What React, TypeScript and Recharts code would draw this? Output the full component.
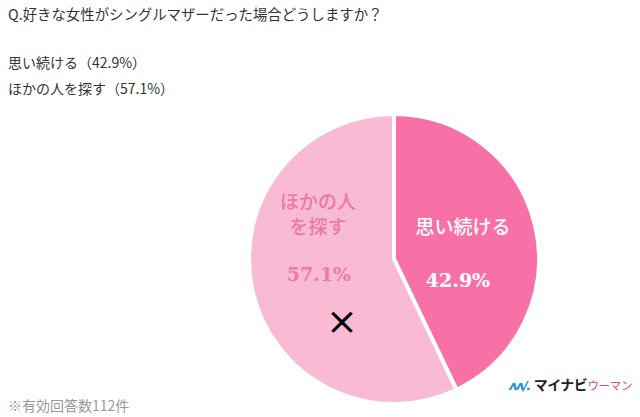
import React from 'react';
import { PieChart, Pie, Cell } from 'recharts';

const title = 'Q.好きな女性がシングルマザーだった場合どうしますか？';
const answers = ['思い続ける', 'ほかの人を探す'];
const shortLabels = [['思い続ける'], ['ほかの人', 'を探す']];
const percents = [42.9, 57.1];
const sliceColors = ['#F771A7', '#F8BBD3'];
const labelColors = ['#FFFFFF', '#EE78AA'];
const note = '※有効回答数112件';

const data = answers.map((name, i) => ({ name, value: percents[i] }));

const FONT = '"Noto Sans CJK JP", "Noto Sans", sans-serif';

// label offsets from the pie centre, per slice
const labelOffsets = [
  { x: 69, y: -34 },
  { x: -76, y: -59 },
];

function renderLabel(props: any) {
  const { cx, cy, index } = props;
  const off = labelOffsets[index];
  const x = cx + off.x;
  const y = cy + off.y;
  const lines = shortLabels[index];
  const color = labelColors[index];
  return (
    <g key={`lbl-${index}`}>
      {lines.map((t, i) => (
        <text
          key={i}
          x={x}
          y={y + i * 25}
          textAnchor="middle"
          dominantBaseline="central"
          fill={color}
          fontSize={19}
          fontWeight={500}
          fontFamily={FONT}
        >
          {t}
        </text>
      ))}
      <text
        x={x - (index === 0 ? 5 : -1)}
        y={cy + (index === 0 ? 21 : 15)}
        textAnchor="middle"
        dominantBaseline="central"
        fill={color}
        fontSize={19}
        fontWeight={700}
        fontFamily='"DejaVu Serif", serif'
      >
        {percents[index].toFixed(1)}%
      </text>
    </g>
  );
}

export default function App() {
  return (
    <div
      style={{
        position: 'fixed',
        left: 0,
        top: 0,
        width: 640,
        height: 417,
        background: '#fff',
        fontFamily: FONT,
        color: '#333',
      }}
    >
      <div style={{ position: 'absolute', left: 8, top: 3, fontSize: 14.4, whiteSpace: 'nowrap' }}>{title}</div>
      {answers.map((a, i) => (
        <div
          key={a}
          style={{ position: 'absolute', left: 8, top: 52 + i * 26, fontSize: 14, whiteSpace: 'nowrap' }}
        >
          {a}（{percents[i].toFixed(1)}%）
        </div>
      ))}
      <div style={{ position: 'absolute', left: 8, top: 395, fontSize: 14, color: '#999', whiteSpace: 'nowrap' }}>
        {note}
      </div>

      <div style={{ position: 'absolute', left: 0, top: 0 }}>
        <PieChart width={640} height={417} margin={{ top: 0, right: 0, bottom: 0, left: 0 }}>
          <Pie
            data={data}
            dataKey="value"
            nameKey="name"
            cx={394}
            cy={259}
            outerRadius={145}
            startAngle={90}
            endAngle={-270}
            stroke="#fff"
            strokeWidth={4}
            label={renderLabel}
            labelLine={false}
            isAnimationActive={false}
          >
            {data.map((d, i) => (
              <Cell key={d.name} fill={sliceColors[i]} />
            ))}
          </Pie>
        </PieChart>
      </div>

      <div
        style={{
          position: 'absolute',
          left: 326,
          top: 302,
          fontSize: 38,
          lineHeight: '38px',
          color: '#000',
          fontFamily: '"DejaVu Sans", sans-serif',
        }}
      >
        ×
      </div>

      <div style={{ position: 'absolute', left: 509, top: 374, display: 'flex', alignItems: 'baseline', whiteSpace: 'nowrap' }}>
        <span style={{ color: '#1E8FD8', fontSize: 13, fontWeight: 900, fontStyle: 'italic', letterSpacing: -1.5, marginRight: 4, fontFamily: '"DejaVu Sans", sans-serif' }}>
          ʌʌ/.
        </span>
        <span style={{ color: '#222', fontSize: 14, fontWeight: 700, letterSpacing: -0.5 }}>マイナビ</span>
        <span style={{ color: '#E0458C', fontSize: 11.5, letterSpacing: -0.3 }}>ウーマン</span>
      </div>
    </div>
  );
}
